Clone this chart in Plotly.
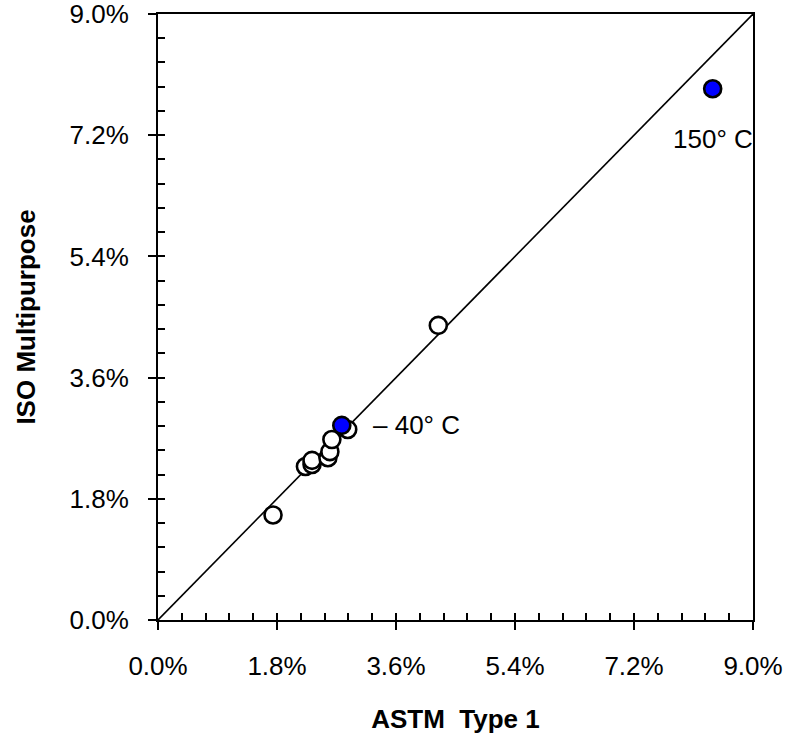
import plotly.graph_objects as go

# Shrinkage comparison: ASTM Type 1 vs ISO multipurpose specimens (fractions)
astm_open = [0.0174, 0.0223, 0.0233, 0.0233, 0.0257, 0.0260, 0.0263, 0.0287, 0.0424]
iso_open = [0.0156, 0.0228, 0.0231, 0.0237, 0.0241, 0.0250, 0.0268, 0.0283, 0.04375]

astm_temp = [0.0278, 0.0839]
iso_temp = [0.0289, 0.0789]
temp_labels = ["\u2013 40\u00b0 C", "150\u00b0 C"]

axis_min, axis_max = 0.0, 0.09
major_step, minor_step = 0.018, 0.0036

FONT = "Liberation Sans, Arial, sans-serif"

fig = go.Figure()

# 1:1 reference line
fig.add_trace(go.Scatter(
    x=[axis_min, axis_max], y=[axis_min, axis_max], mode="lines",
    line=dict(color="black", width=1.6), hoverinfo="skip", showlegend=False))

fig.add_trace(go.Scatter(
    x=astm_open, y=iso_open, mode="markers",
    marker=dict(size=17, color="white", line=dict(color="black", width=2.6)),
    showlegend=False))

fig.add_trace(go.Scatter(
    x=astm_temp, y=iso_temp, mode="markers",
    marker=dict(size=17, color="#0000FF", line=dict(color="black", width=2.6)),
    showlegend=False))

# carrier trace for the minor-tick overlay axes
fig.add_trace(go.Scatter(x=[axis_min], y=[axis_min], xaxis="x2", yaxis="y2",
                         mode="markers", marker=dict(opacity=0),
                         hoverinfo="skip", showlegend=False))

fig.add_annotation(x=astm_temp[0], y=iso_temp[0], text=temp_labels[0],
                   xanchor="left", yanchor="middle", xshift=29, showarrow=False,
                   font=dict(family=FONT, size=26, color="black"))
fig.add_annotation(x=astm_temp[1], y=iso_temp[1], text=temp_labels[1],
                   xanchor="center", yanchor="middle", yshift=-50, showarrow=False,
                   font=dict(family=FONT, size=26, color="black"))

major_vals = [round(i * major_step, 4) for i in range(6)]

common = dict(range=[axis_min, axis_max], showgrid=False, zeroline=False,
              linecolor="black", linewidth=2, mirror=True, showline=True,
              tickvals=major_vals, tickformat=".1%", ticks="outside",
              ticklen=8, tickwidth=2, tickcolor="black",
              ticklabeloverflow="allow", automargin=False,
              tickfont=dict(family=FONT, size=26, color="black"))

minor = dict(range=[axis_min, axis_max], showgrid=False, zeroline=False,
             showline=False, showticklabels=False, ticks="inside",
             tick0=0, dtick=minor_step, ticklen=7, tickwidth=1.5,
             tickcolor="black", automargin=False)

fig.update_layout(
    width=792, height=740,
    margin=dict(l=158, r=39, t=14, b=120),
    paper_bgcolor="white", plot_bgcolor="white",
    xaxis=dict(**common, ticklabelstandoff=14,
               title=dict(text="<b>ASTM  Type 1</b>", standoff=30,
                          font=dict(family=FONT, size=26, color="black"))),
    yaxis=dict(**common, ticklabelstandoff=14,
               title=dict(text="<b>ISO Multipurpose</b>", standoff=26,
                          font=dict(family=FONT, size=26, color="black"))),
    xaxis2=dict(**minor, overlaying="x", anchor="y", side="bottom"),
    yaxis2=dict(**minor, overlaying="y", anchor="x", side="left"),
)

fig.write_html("out.html")
